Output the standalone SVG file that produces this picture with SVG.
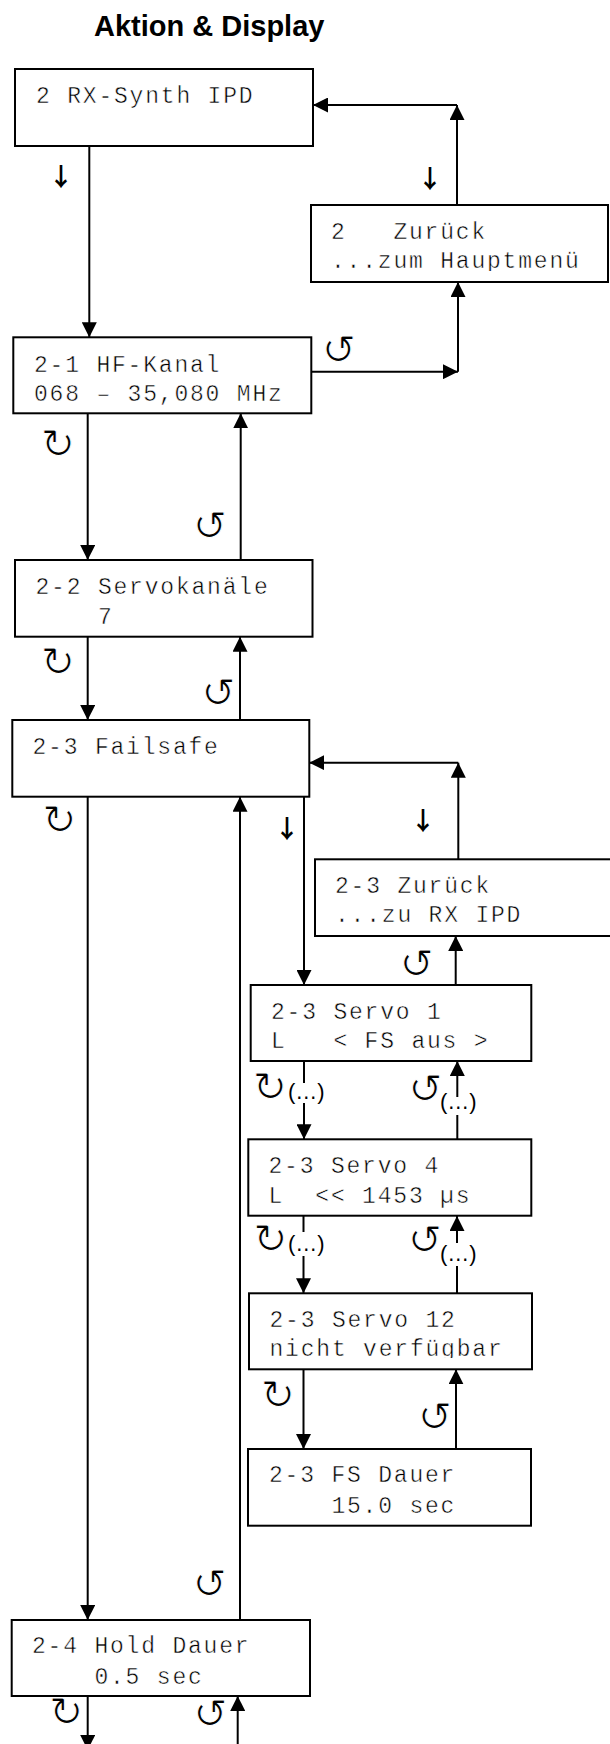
<svg xmlns="http://www.w3.org/2000/svg" width="610" height="1744" viewBox="0 0 610 1744">
<style>
.box{fill:#fff;stroke:#000;stroke-width:2}
.t{font-family:"Liberation Mono","Courier New",monospace;font-size:23px;letter-spacing:1.8px;fill:#000;stroke:#fff;stroke-width:0.5;white-space:pre}
.ln{fill:none;stroke:#000;stroke-width:2;marker-end:url(#ah)}
.sym{font-family:"DejaVu Sans",sans-serif;font-size:41px;fill:#000;stroke:#fff;stroke-width:1;text-anchor:middle}
.dn{font-family:"Noto Sans CJK JP","DejaVu Sans",sans-serif;font-size:25px;font-weight:bold;fill:#000;text-anchor:middle}
.el{font-family:"Liberation Sans",Arial,sans-serif;font-size:22px;fill:#000}
.ttl{font-family:"Liberation Sans",Arial,sans-serif;font-size:29px;font-weight:bold;fill:#000}
</style>
<defs>
<marker id="ah" markerUnits="userSpaceOnUse" markerWidth="15" markerHeight="15" refX="15" refY="7.5" orient="auto">
<path d="M0,0 L15,7.5 L0,15 Z" fill="#000"/>
</marker>
<clipPath id="clipZ1"><rect x="311" y="205" width="297" height="66"/></clipPath>
<clipPath id="clipS12"><rect x="249" y="1293" width="283" height="65"/></clipPath>
</defs>
<rect width="610" height="1744" fill="#fff"/>
<text class="ttl" x="94" y="36">Aktion &amp; Display</text>

<g id="connectors">
<path class="ln" d="M89.3,146 V337.3"/>
<path class="ln" d="M457,205 V105"/>
<path class="ln" d="M457,105 H313"/>
<path class="ln" d="M311,371.7 H458"/>
<path class="ln" d="M458,371.7 V282"/>
<path class="ln" d="M87.7,413.3 V560"/>
<path class="ln" d="M240.7,560 V413.3"/>
<path class="ln" d="M87.7,636.7 V720"/>
<path class="ln" d="M240,720 V636.7"/>
<path class="ln" d="M87.7,796.7 V1620"/>
<path class="ln" d="M240,1620 V796.7"/>
<path class="ln" d="M458.3,859.3 V762.7"/>
<path class="ln" d="M458.3,762.7 H309.3"/>
<path class="ln" d="M304,796.7 V985"/>
<path class="ln" d="M455.7,985 V936"/>
<path class="ln" d="M304,1061 V1139.3"/>
<path class="ln" d="M457.3,1139.3 V1061"/>
<path class="ln" d="M303.5,1216 V1293.3"/>
<path class="ln" d="M457,1293.3 V1216"/>
<path class="ln" d="M303.5,1369.3 V1449"/>
<path class="ln" d="M456,1449 V1369.3"/>
<path class="ln" d="M87.7,1696 V1750"/>
<path class="ln" d="M237.7,1760 V1696"/>
</g>

<g id="labels">
<text class="dn" x="61" y="186">↓</text>
<text class="dn" x="430" y="188">↓</text>
<text class="dn" x="287" y="838">↓</text>
<text class="dn" x="423" y="830">↓</text>
<text class="sym" x="58" y="458">↻</text>
<text class="sym" x="210" y="540">↺</text>
<text class="sym" x="339" y="364">↺</text>
<text class="sym" x="58" y="676">↻</text>
<text class="sym" x="218.5" y="707">↺</text>
<text class="sym" x="59.5" y="834">↻</text>
<text class="sym" x="416.7" y="978">↺</text>
<text class="sym" x="270" y="1101">↻</text>
<text class="sym" x="425.5" y="1103">↺</text>
<text class="sym" x="270.4" y="1253">↻</text>
<text class="sym" x="425" y="1254">↺</text>
<text class="sym" x="278" y="1409">↻</text>
<text class="sym" x="435" y="1431">↺</text>
<text class="sym" x="209.7" y="1598">↺</text>
<text class="sym" x="66.3" y="1726">↻</text>
<text class="sym" x="210.5" y="1728">↺</text>
<rect x="287" y="1083" width="40" height="20" fill="#fff"/>
<text class="el" x="288" y="1099">(…)</text>
<rect x="439" y="1097" width="40" height="18" fill="#fff"/>
<text class="el" x="440" y="1109">(…)</text>
<rect x="287" y="1232" width="40" height="24" fill="#fff"/>
<text class="el" x="288" y="1251">(…)</text>
<rect x="439" y="1243" width="40" height="23" fill="#fff"/>
<text class="el" x="440" y="1261">(…)</text>
</g>

<g id="n-rxsynth">
<rect class="box" x="15" y="69" width="298" height="77"/>
<text class="t" x="36" y="102.7">2 RX-Synth IPD</text>
</g>
<g id="n-zurueck-main">
<rect class="box" x="311" y="205" width="297" height="77"/>
<g clip-path="url(#clipZ1)">
<text class="t" x="331" y="239">2   Zurück</text>
<text class="t" x="331" y="268.3">...zum Hauptmenü</text>
</g>
</g>
<g id="n-hfkanal">
<rect class="box" x="13.3" y="337.3" width="298" height="76"/>
<text class="t" x="34" y="371.7">2-1 HF-Kanal</text>
<text class="t" x="34" y="400.7">068 – 35,080 MHz</text>
</g>
<g id="n-servokanaele">
<rect class="box" x="15" y="560" width="297.5" height="76.7"/>
<text class="t" x="35.5" y="594.3">2-2 Servokanäle</text>
<text class="t" x="35.5" y="624.3">    7</text>
</g>
<g id="n-failsafe">
<rect class="box" x="12.3" y="720" width="297" height="76.7"/>
<text class="t" x="32.5" y="754.3">2-3 Failsafe</text>
</g>
<g id="n-zurueck-rx">
<rect class="box" x="315" y="859.3" width="300" height="76.7"/>
<text class="t" x="335" y="892.7">2-3 Zurück</text>
<text class="t" x="335" y="921.7">...zu RX IPD</text>
</g>
<g id="n-servo1">
<rect class="box" x="250.7" y="985" width="280.6" height="76"/>
<text class="t" x="271" y="1019.3">2-3 Servo 1</text>
<text class="t" x="271" y="1048.3">L   &lt; FS aus &gt;</text>
</g>
<g id="n-servo4">
<rect class="box" x="248.3" y="1139.3" width="283" height="76.4"/>
<text class="t" x="268.5" y="1173.3">2-3 Servo 4</text>
<text class="t" x="268.5" y="1202.7">L  &lt;&lt; 1453 µs</text>
</g>
<g id="n-servo12">
<rect class="box" x="249" y="1293.3" width="283" height="76"/>
<g clip-path="url(#clipS12)">
<text class="t" x="269.5" y="1326.7">2-3 Servo 12</text>
<text class="t" x="269.5" y="1356">nicht verfügbar</text>
</g>
</g>
<g id="n-fsdauer">
<rect class="box" x="248" y="1449" width="283" height="76.7"/>
<text class="t" x="269" y="1481.7">2-3 FS Dauer</text>
<text class="t" x="269" y="1512.7">    15.0 sec</text>
</g>
<g id="n-holddauer">
<rect class="box" x="11.7" y="1620" width="298.3" height="76"/>
<text class="t" x="32" y="1653.3">2-4 Hold Dauer</text>
<text class="t" x="32" y="1684">    0.5 sec</text>
</g>
</svg>
